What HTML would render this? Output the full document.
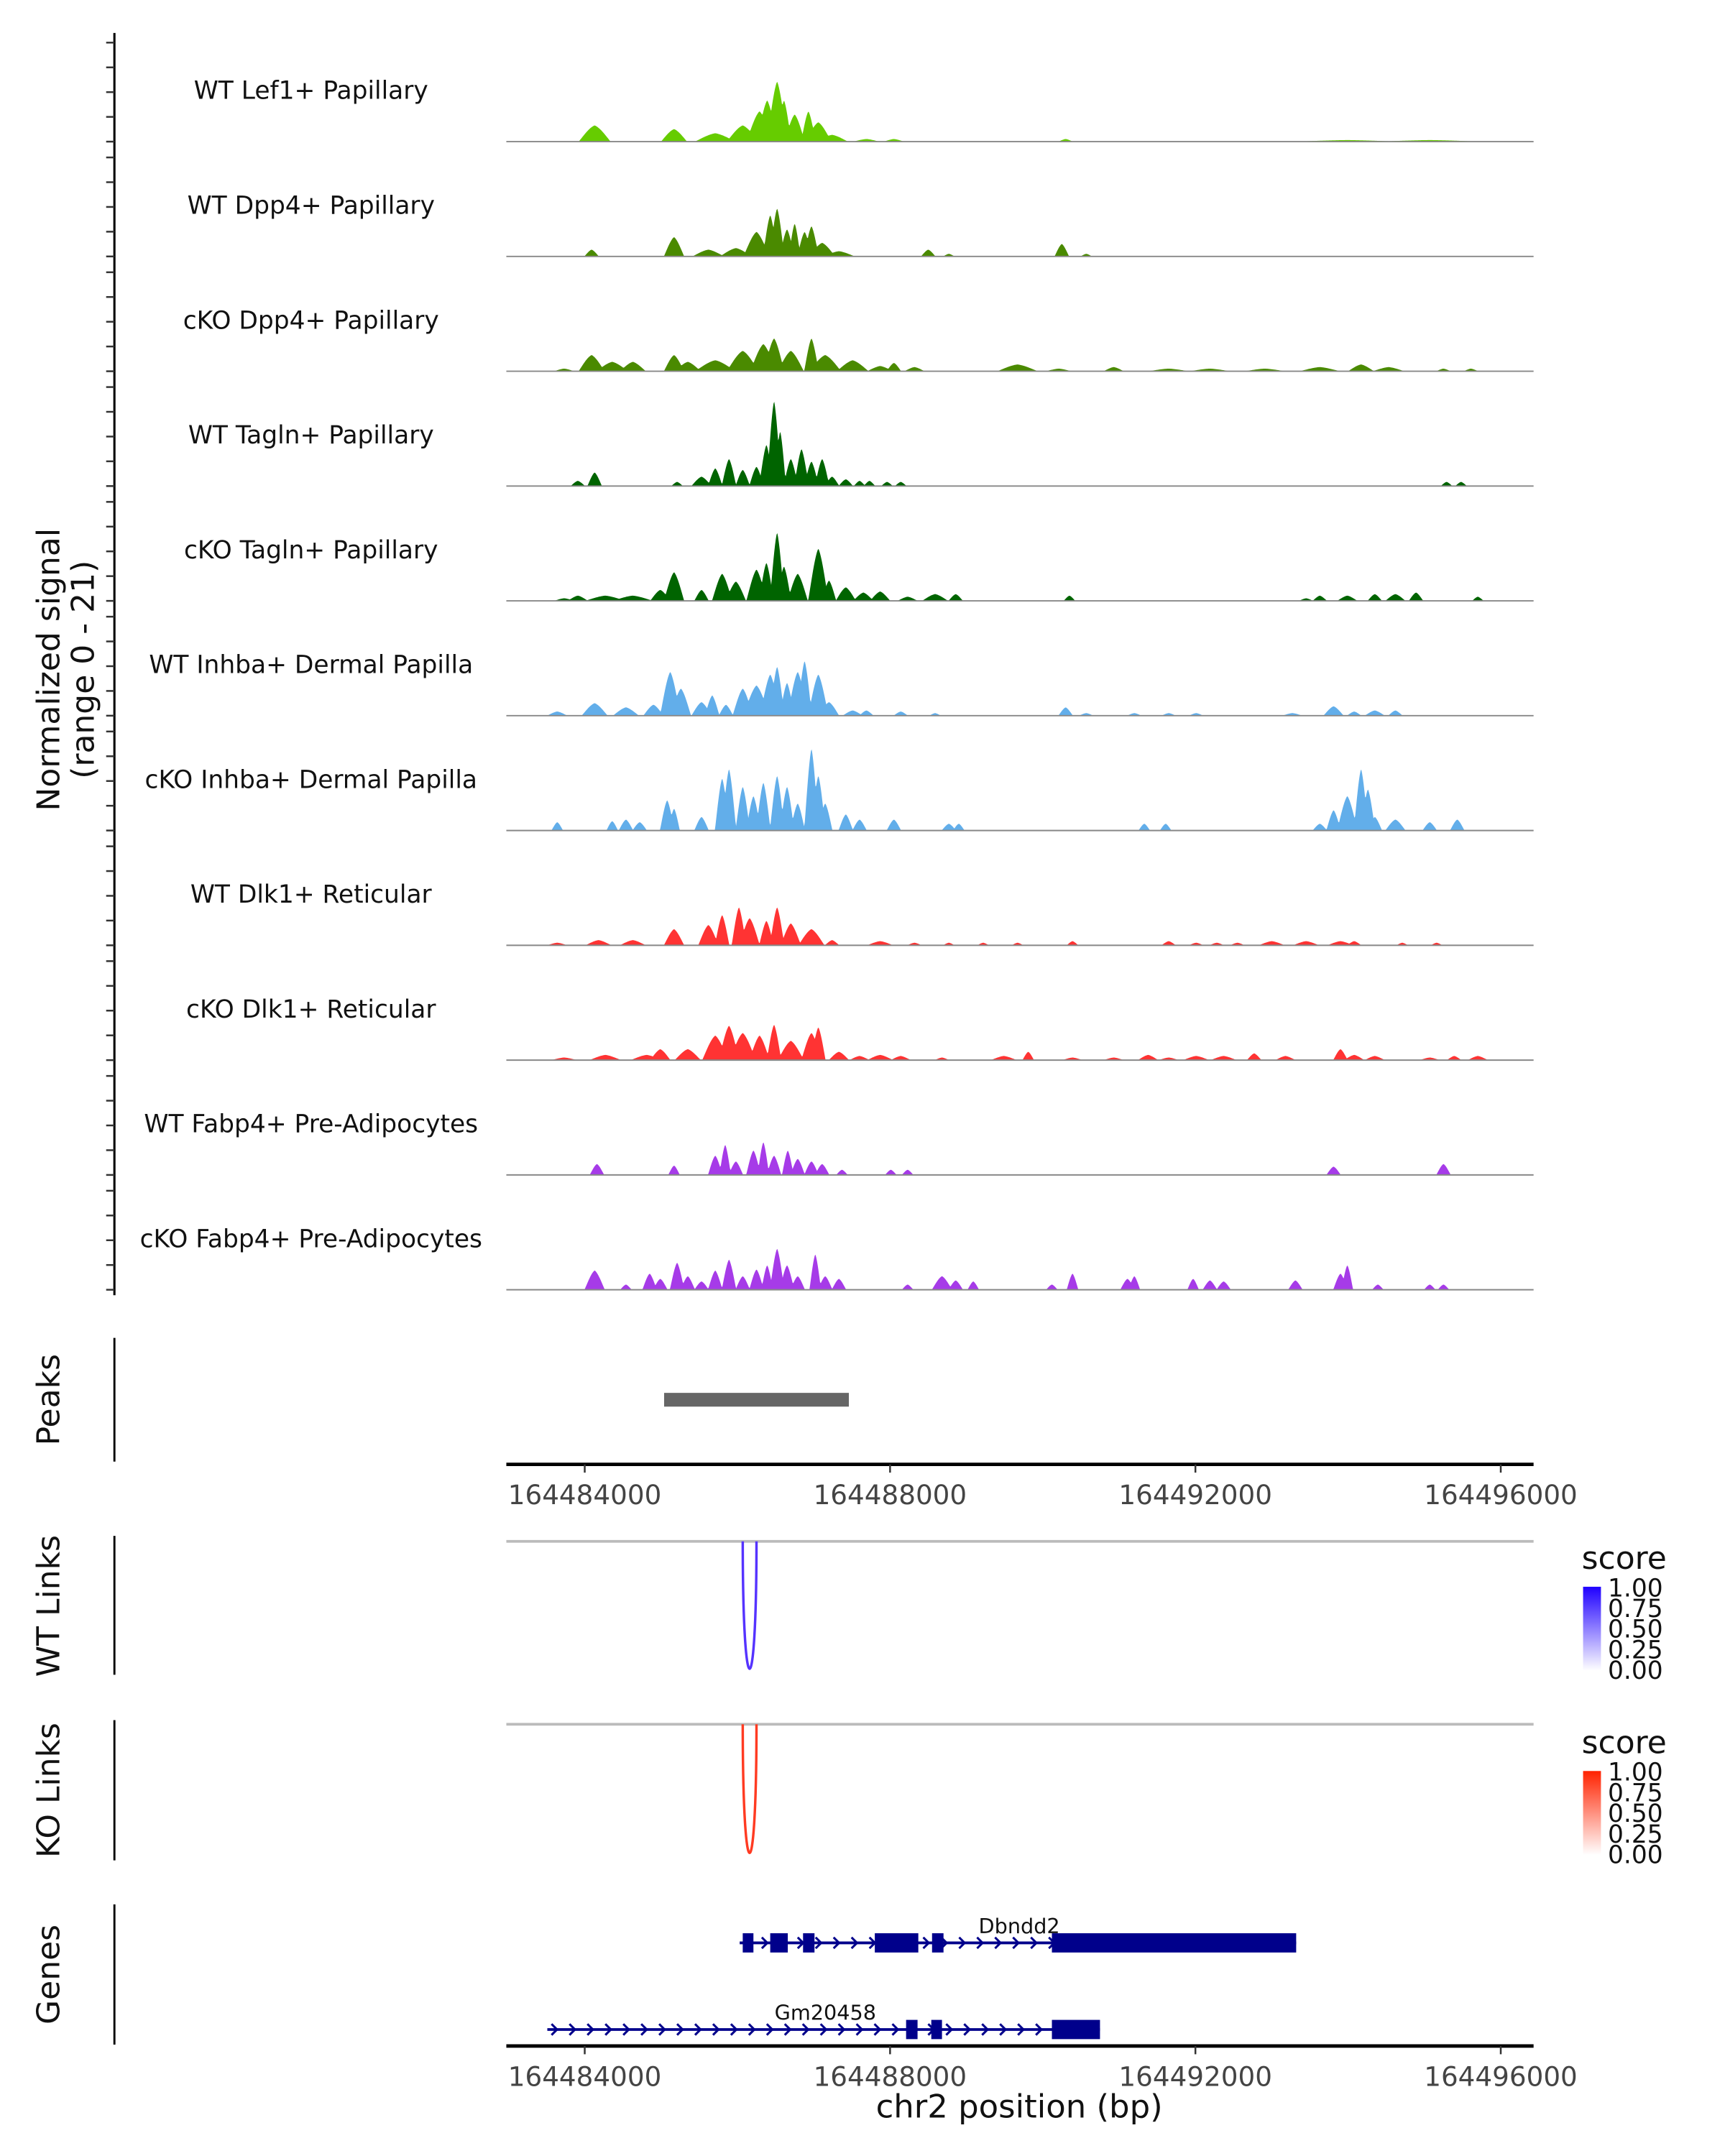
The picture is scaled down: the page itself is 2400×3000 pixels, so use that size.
<!DOCTYPE html>
<html><head><meta charset="utf-8"><style>
html,body{margin:0;padding:0;background:#fff;}
svg{display:block;font-family:"DejaVu Sans","Liberation Sans",sans-serif;}
</style></head><body>
<svg id="chart" xmlns="http://www.w3.org/2000/svg" width="2400" height="3000" viewBox="0 0 1254 1568">
<defs>
<linearGradient id="gBlue" x1="0" y1="1" x2="0" y2="0"><stop offset="0" stop-color="#ffffff"/><stop offset="1" stop-color="#1f00ff"/></linearGradient>
<linearGradient id="gRed" x1="0" y1="1" x2="0" y2="0"><stop offset="0" stop-color="#ffffff"/><stop offset="1" stop-color="#ff2200"/></linearGradient>
</defs>
<g id="tracks"></g>
<text transform="translate(43,487) rotate(-90)" text-anchor="middle" font-size="23" fill="#111">Normalized signal</text>
<text transform="translate(68,487) rotate(-90)" text-anchor="middle" font-size="23" fill="#111">(range 0 - 21)</text>
<text transform="translate(43,1018) rotate(-90)" text-anchor="middle" font-size="23" fill="#111">Peaks</text>
<line x1="83" y1="973" x2="83" y2="1063" stroke="#000" stroke-width="1.5"/>
<text transform="translate(43,1168) rotate(-90)" text-anchor="middle" font-size="23" fill="#111">WT Links</text>
<line x1="83" y1="1117" x2="83" y2="1218" stroke="#000" stroke-width="1.5"/>
<text transform="translate(43,1302) rotate(-90)" text-anchor="middle" font-size="23" fill="#111">KO Links</text>
<line x1="83" y1="1251" x2="83" y2="1353" stroke="#000" stroke-width="1.5"/>
<text transform="translate(43,1436) rotate(-90)" text-anchor="middle" font-size="23" fill="#111">Genes</text>
<line x1="83" y1="1385" x2="83" y2="1487" stroke="#000" stroke-width="1.5"/>
<text x="741" y="1540" text-anchor="middle" font-size="23.5" fill="#111">chr2 position (bp)</text>
<g>
<text x="1150" y="1141" font-size="23" fill="#111">score</text>
<rect x="1151" y="1154" width="13" height="61" fill="url(#gBlue)"/>
<g font-size="18" fill="#111">
<text x="1169" y="1161">1.00</text>
<text x="1169" y="1176">0.75</text>
<text x="1169" y="1191">0.50</text>
<text x="1169" y="1206">0.25</text>
<text x="1169" y="1221">0.00</text></g>
</g>
<g>
<text x="1150" y="1275" font-size="23" fill="#111">score</text>
<rect x="1151" y="1288" width="13" height="61" fill="url(#gRed)"/>
<g font-size="18" fill="#111">
<text x="1169" y="1295">1.00</text>
<text x="1169" y="1310">0.75</text>
<text x="1169" y="1325">0.50</text>
<text x="1169" y="1340">0.25</text>
<text x="1169" y="1355">0.00</text></g>
</g>
</svg>
<script>
// genomic axis: kb offsets from 164484000
const xTicks = [0, 4, 8, 12];
const xTickLabels = ["164484000", "164488000", "164492000", "164496000"];
const trackNames = ["WT Lef1+ Papillary","WT Dpp4+ Papillary","cKO Dpp4+ Papillary","WT Tagln+ Papillary","cKO Tagln+ Papillary","WT Inhba+ Dermal Papilla","cKO Inhba+ Dermal Papilla","WT Dlk1+ Reticular","cKO Dlk1+ Reticular","WT Fabp4+ Pre-Adipocytes","cKO Fabp4+ Pre-Adipocytes"];
const trackColors = ["#66cc00","#4a8a00","#4a8a00","#006400","#006400","#62aeea","#62aeea","#ff3333","#ff3333","#a63be8","#a63be8"];

const lef1WT_pos=[0.13,1.17,1.71,2.07,2.29,2.39,2.52,2.61,2.75,2.93,3.06,3.24,3.69,4.05,6.3,9.99,11.07];
const lef1WT_val=[3.1,2.4,1.6,3.1,5.8,7.9,11.5,7.9,5.2,5.8,3.7,1.3,0.5,0.5,0.5,0.3,0.3];
const lef1WT_wid=[0.11,0.09,0.14,0.11,0.09,0.07,0.07,0.05,0.07,0.05,0.09,0.11,0.09,0.07,0.05,0.36,0.36];

const dpp4WT_pos=[0.09,1.17,1.62,1.98,2.25,2.43,2.52,2.65,2.75,2.88,2.97,3.11,3.33,4.5,4.77,6.25,6.57];
const dpp4WT_val=[1.3,3.7,1.3,1.6,4.7,7.9,9.2,5.2,6.3,4.7,5.8,2.6,1.0,1.3,0.5,2.4,0.5];
const dpp4WT_wid=[0.05,0.07,0.11,0.11,0.09,0.05,0.05,0.05,0.04,0.05,0.05,0.09,0.11,0.05,0.04,0.05,0.04];

const dpp4KO_pos=[-0.27,0.09,0.36,0.63,1.17,1.35,1.71,2.07,2.34,2.48,2.7,2.97,3.15,3.51,3.87,4.05,4.32,5.67,6.21,6.93,7.65,8.19,8.91,9.63,10.17,10.53,11.25,11.61];
const dpp4KO_val=[0.5,3.1,1.8,1.8,3.1,1.8,2.1,3.9,5.2,6.3,3.9,6.3,3.1,2.1,1.0,1.6,0.8,1.3,0.5,0.8,0.5,0.5,0.5,0.8,1.3,0.8,0.5,0.5];
const dpp4KO_wid=[0.07,0.09,0.11,0.09,0.07,0.09,0.14,0.11,0.09,0.07,0.09,0.05,0.11,0.11,0.09,0.05,0.07,0.14,0.09,0.07,0.14,0.14,0.14,0.14,0.09,0.11,0.05,0.05];

const taglnWT_pos=[-0.09,0.13,1.21,1.53,1.71,1.89,2.07,2.25,2.38,2.48,2.56,2.7,2.84,2.97,3.11,3.24,3.42,3.6,3.73,3.96,4.14,11.29,11.48];
const taglnWT_val=[1.0,2.6,0.8,1.8,3.4,5.2,3.1,3.7,7.9,16.3,10.5,5.2,7.1,4.7,5.2,1.8,1.3,1.0,1.0,0.8,0.8,0.8,0.8];
const taglnWT_wid=[0.05,0.05,0.04,0.07,0.05,0.05,0.05,0.05,0.05,0.05,0.04,0.05,0.05,0.05,0.05,0.05,0.05,0.04,0.04,0.04,0.04,0.04,0.04];

const taglnKO_pos=[-0.27,-0.09,0.27,0.63,0.99,1.17,1.53,1.8,1.98,2.25,2.38,2.52,2.61,2.79,3.06,3.2,3.42,3.65,3.87,4.23,4.59,4.86,6.35,9.45,9.63,9.99,10.35,10.62,10.89,11.7];
const taglnKO_val=[0.5,1.0,1.0,1.0,2.1,5.5,2.1,5.2,3.7,6.0,7.3,13.1,6.6,5.2,10,3.9,2.6,1.6,1.8,0.8,1.3,1.3,1.0,0.5,1.0,1.0,1.3,1.3,1.6,0.8];
const taglnKO_wid=[0.07,0.07,0.14,0.14,0.07,0.07,0.05,0.07,0.07,0.07,0.05,0.05,0.05,0.07,0.07,0.05,0.07,0.07,0.07,0.07,0.09,0.05,0.04,0.05,0.05,0.07,0.05,0.07,0.05,0.04];

const inhbaWT_pos=[-0.36,0.13,0.54,0.9,1.12,1.26,1.53,1.67,1.85,2.07,2.25,2.43,2.52,2.65,2.79,2.88,3.06,3.2,3.51,3.69,4.14,4.59,6.3,6.57,7.2,7.65,8.01,9.27,9.81,10.08,10.35,10.62];
const inhbaWT_val=[0.8,2.4,1.6,2.1,8.4,5.2,2.6,3.9,2.1,5.2,5.8,7.9,9.4,6.3,8.4,10.5,7.9,2.6,1.0,1.0,0.8,0.5,1.6,0.5,0.5,0.5,0.5,0.5,1.8,0.8,1.0,1.0];
const inhbaWT_wid=[0.07,0.09,0.09,0.07,0.07,0.07,0.07,0.05,0.05,0.07,0.09,0.07,0.05,0.05,0.07,0.05,0.07,0.07,0.07,0.05,0.05,0.04,0.05,0.05,0.05,0.05,0.05,0.07,0.07,0.05,0.07,0.05];

const inhbaKO_pos=[-0.36,0.36,0.54,0.72,1.08,1.17,1.53,1.8,1.89,2.07,2.21,2.34,2.52,2.65,2.79,2.97,3.06,3.15,3.42,3.6,4.05,4.77,4.9,7.33,7.61,9.63,9.81,9.99,10.17,10.26,10.35,10.62,11.07,11.43];
const inhbaKO_val=[1.6,1.8,2.1,1.6,5.8,4.2,2.6,10,11.8,8.4,6.6,9.2,10.5,8.4,5.2,15.7,10.5,5.2,3.1,2.1,2.1,1.3,1.3,1.3,1.3,1.3,3.9,6.6,11.8,7.9,2.6,2.1,1.6,2.1];
const inhbaKO_wid=[0.04,0.04,0.05,0.05,0.05,0.04,0.05,0.05,0.05,0.05,0.05,0.05,0.05,0.05,0.05,0.05,0.05,0.05,0.05,0.05,0.05,0.05,0.04,0.04,0.04,0.05,0.05,0.07,0.05,0.05,0.05,0.07,0.05,0.05];

const dlk1WT_pos=[-0.36,0.18,0.63,1.17,1.62,1.8,2.02,2.16,2.38,2.52,2.7,2.97,3.24,3.87,4.32,4.77,5.22,5.67,6.39,7.65,8.01,8.28,8.55,9.0,9.45,9.9,10.08,10.71,11.16];
const dlk1WT_val=[0.5,1.0,1.0,3.1,3.9,5.8,7.3,5.2,4.7,7.3,4.2,3.1,1.0,0.8,0.5,0.5,0.5,0.5,0.8,0.8,0.5,0.5,0.5,0.8,0.8,0.8,0.8,0.5,0.5];
const dlk1WT_wid=[0.07,0.09,0.09,0.07,0.07,0.05,0.05,0.07,0.05,0.05,0.07,0.09,0.05,0.09,0.05,0.04,0.04,0.04,0.04,0.05,0.05,0.05,0.05,0.09,0.09,0.09,0.05,0.04,0.04];

const dlk1KO_pos=[-0.27,0.27,0.81,0.99,1.35,1.71,1.89,2.07,2.29,2.48,2.7,2.97,3.06,3.33,3.6,3.87,4.14,4.68,5.49,5.81,6.39,6.93,7.38,7.65,8.01,8.37,8.77,9.18,9.9,10.08,10.35,11.07,11.39,11.7];
const dlk1KO_val=[0.5,1.0,1.0,2.1,2.1,4.7,6.6,5.2,4.7,6.8,3.7,5.2,6.3,1.6,0.8,1.0,0.8,0.5,0.8,1.6,0.5,0.5,1.0,0.5,0.8,0.8,1.3,0.8,2.1,1.0,0.8,0.5,0.8,0.8];
const dlk1KO_wid=[0.09,0.11,0.11,0.07,0.09,0.09,0.07,0.09,0.07,0.05,0.09,0.07,0.05,0.07,0.07,0.09,0.07,0.05,0.09,0.04,0.07,0.07,0.07,0.07,0.09,0.09,0.05,0.07,0.05,0.07,0.07,0.07,0.05,0.07];

const fabp4WT_pos=[0.16,1.17,1.71,1.84,1.98,2.21,2.34,2.48,2.66,2.79,2.97,3.11,3.37,4.01,4.23,9.81,11.25];
const fabp4WT_val=[2.1,1.8,3.7,5.8,2.6,4.7,6.3,3.7,4.7,3.1,2.6,2.1,1.0,1.0,1.0,1.6,2.1];
const fabp4WT_wid=[0.05,0.04,0.05,0.04,0.05,0.05,0.04,0.05,0.04,0.05,0.05,0.05,0.04,0.04,0.04,0.05,0.05];

const fabp4KO_pos=[0.13,0.54,0.85,0.99,1.21,1.35,1.53,1.71,1.89,2.07,2.25,2.39,2.52,2.65,2.79,3.02,3.15,3.33,4.23,4.68,4.86,5.09,6.12,6.39,7.11,7.2,7.97,8.19,8.37,9.31,9.9,9.99,10.39,11.07,11.25];
const fabp4KO_val=[3.7,1.0,3.1,2.1,5.2,2.6,1.6,3.7,5.8,2.6,3.9,4.7,7.9,4.7,2.6,6.8,2.6,2.1,1.0,2.6,1.8,1.6,1.0,3.1,2.1,2.6,2.1,1.8,1.6,1.8,3.1,4.7,1.0,1.0,1.0];
const fabp4KO_wid=[0.07,0.04,0.05,0.05,0.05,0.05,0.05,0.05,0.05,0.05,0.05,0.04,0.05,0.05,0.05,0.04,0.05,0.05,0.04,0.07,0.05,0.04,0.04,0.04,0.05,0.04,0.04,0.05,0.05,0.05,0.05,0.04,0.04,0.04,0.04];

const peakRegion = [1.04, 3.46];
const linkWT = [2.07, 2.25];
const linkWTscore = [0.9];
const linkKO = [2.07, 2.25];
const linkKOscore = [0.9];
const geneNames = ["Dbndd2", "Gm20458"];
const geneSpans = [[2.03, 9.32], [-0.49, 6.75]];
const dbndd2Exons = [[2.07,2.21],[2.43,2.66],[2.86,3.01],[3.8,4.37],[4.55,4.7],[6.12,9.32]];
const gm20458Exons = [[4.21,4.36],[4.54,4.68],[6.12,6.75]];

const NS="http://www.w3.org/2000/svg";
const svg=document.getElementById('chart');
const tracksG=document.getElementById('tracks');
const X0=368, X1=1115, KMIN=-1.027, KMAX=12.43;
function xs(kb){return X0+(kb-KMIN)/(KMAX-KMIN)*(X1-X0);}
const PX_PER_UNIT=3.81;
const SPREAD=1.9;
function ys(v,base){return base-v*PX_PER_UNIT;}
function mk(tag,attrs,parent){const e=document.createElementNS(NS,tag);for(const k in attrs)e.setAttribute(k,attrs[k]);(parent||svg).appendChild(e);return e;}

const allPos=[lef1WT_pos,dpp4WT_pos,dpp4KO_pos,taglnWT_pos,taglnKO_pos,inhbaWT_pos,inhbaKO_pos,dlk1WT_pos,dlk1KO_pos,fabp4WT_pos,fabp4KO_pos];
const allVal=[lef1WT_val,dpp4WT_val,dpp4KO_val,taglnWT_val,taglnKO_val,inhbaWT_val,inhbaKO_val,dlk1WT_val,dlk1KO_val,fabp4WT_val,fabp4KO_val];
const allWid=[lef1WT_wid,dpp4WT_wid,dpp4KO_wid,taglnWT_wid,taglnKO_wid,inhbaWT_wid,inhbaKO_wid,dlk1WT_wid,dlk1KO_wid,fabp4WT_wid,fabp4KO_wid];

const ax=mk('line',{x1:83,y1:24,x2:83,y2:942,stroke:'#000','stroke-width':1.6});



for(let t=0;t<trackNames.length;t++){
  const base=103+t*83.5;
  for(let k=0;k<5;k++){
    const y=base-k*18;
    const tk=mk('line',{x1:77,y1:y,x2:83,y2:y,stroke:'#333','stroke-width':1.3});
    
    
  }
  const lab=mk('text',{x:226,y:base-31,'text-anchor':'middle','font-size':18,fill:'#111'},tracksG);
  lab.textContent=trackNames[t];
  
  
  const P=allPos[t],V=allVal[t],W=allWid[t];
  let d='M'+X0+','+base;
  for(let k=KMIN;k<=KMAX;k+=0.01){
    let v=0;
    for(let i=0;i<P.length;i++){
      const r=Math.abs(k-P[i])/(W[i]*SPREAD);
      if(r<1){const q=(1-r*r)*(0.6+0.4*(1-r));v=Math.max(v,V[i]*q);}
    }
    d+='L'+xs(k).toFixed(2)+','+ys(v,base).toFixed(2);
  }
  d+='L'+X1+','+base+'Z';
  const area=mk('path',{d:d,fill:trackColors[t]},tracksG);
  
  
  const bl=mk('line',{x1:X0,y1:base,x2:X1,y2:base,stroke:'#888','stroke-width':1},tracksG);
  
  
}

const pk=mk('rect',{x:xs(peakRegion[0]),y:1013,width:xs(peakRegion[1])-xs(peakRegion[0]),height:10,fill:'#666'});



function xAxis(y,name){
  const l=mk('line',{x1:X0,y1:y,x2:X1,y2:y,stroke:'#000','stroke-width':2.5});
  
  
  for(let i=0;i<xTicks.length;i++){
    const x=xs(xTicks[i]);
    const t=mk('line',{x1:x,y1:y,x2:x,y2:y+6,stroke:'#333','stroke-width':1.3});
    
    
    const tl=mk('text',{x:x,y:y+29,'text-anchor':'middle','font-size':19.5,fill:'#444'});
    tl.textContent=xTickLabels[i];
    
    
  }
}
xAxis(1065,'peaks-x-axis');
xAxis(1488,'genes-x-axis');

function link(y0,depth,span,color,name){
  const gl=mk('line',{x1:X0,y1:y0,x2:X1,y2:y0,stroke:'#bbb','stroke-width':2});
  
  
  const a=xs(span[0]),b=xs(span[1]);
  const p=mk('path',{d:`M${a},${y0} C${a},${y0+depth*1.3} ${b},${y0+depth*1.3} ${b},${y0}`,fill:'none',stroke:color,'stroke-width':1.8});
  
  
}
link(1121,95,linkWT,'#5533ff','wt-link');
link(1254,96,linkKO,'#ff3b22','ko-link');

function gene(span,exons,y,label,lx,ly,nm){
  const g=mk('g',{});
  
  
  mk('line',{x1:xs(span[0]),y1:y,x2:xs(span[1]),y2:y,stroke:'#00008b','stroke-width':2},g);
  for(let k=span[0]+0.1;k<span[1]-0.05;k+=0.235){
    const x=xs(k);
    mk('path',{d:`M${x-2.5},${y-4} L${x+1.5},${y} L${x-2.5},${y+4}`,fill:'none',stroke:'#00008b','stroke-width':1.6},g);
  }
  for(const e of exons){
    mk('rect',{x:xs(e[0]),y:y-7,width:xs(e[1])-xs(e[0]),height:14,fill:'#00008b'},g);
  }
  const t=mk('text',{x:lx,y:ly,'text-anchor':'middle','font-size':15,fill:'#111'},g);
  t.textContent=label;
}
gene(geneSpans[0],dbndd2Exons,1413,geneNames[0],741,1406,'gene-dbndd2');
gene(geneSpans[1],gm20458Exons,1476,geneNames[1],600,1469,'gene-gm20458');
</script>
</body></html>
